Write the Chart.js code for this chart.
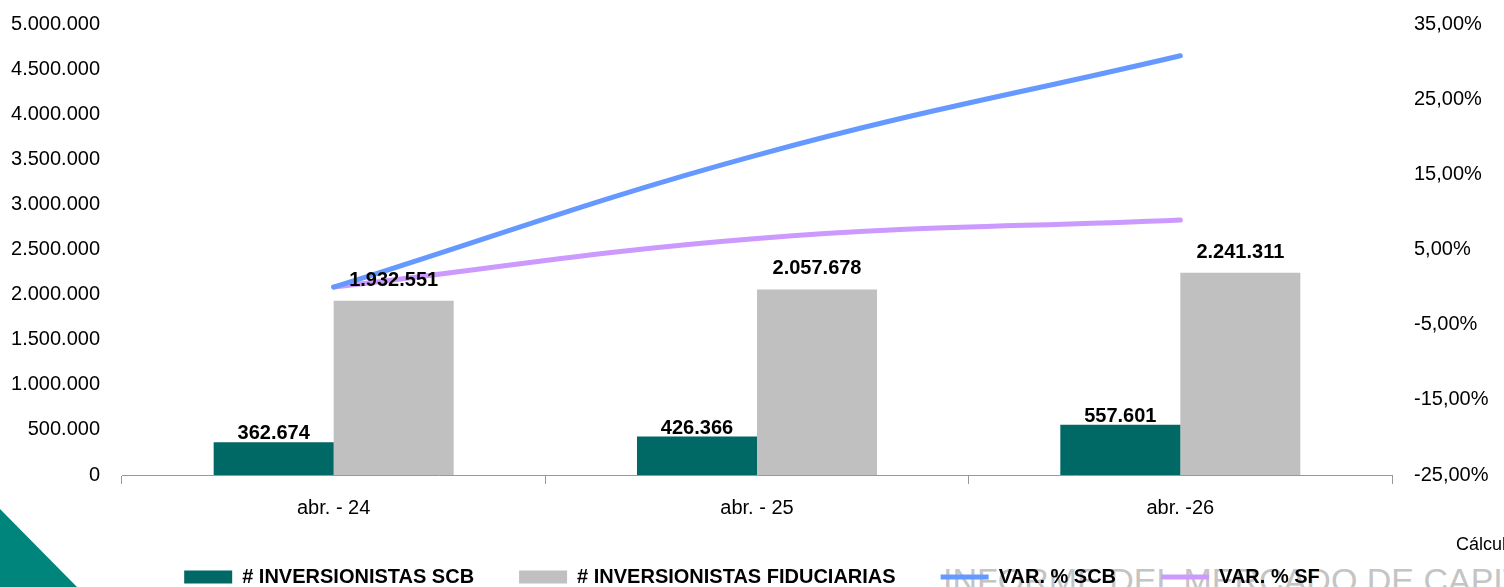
<!DOCTYPE html>
<html>
<head>
<meta charset="utf-8">
<script src="https://cdn.jsdelivr.net/npm/chart.js@4"></script>
<style>
  html, body { margin: 0; padding: 0; background: #fff; overflow: hidden; width: 1504px; height: 587px; }
  #wrap { position: relative; width: 1504px; height: 600px; }
  #myChart { position: absolute; left: 0; top: 0; z-index: 2; }
  .tri { position: absolute; left: 0; top: 509px; width: 77px; height: 78px; background: #00857D;
         clip-path: polygon(0 0, 100% 100%, 0 100%); z-index: 1; }
  .water { position: absolute; left: 943px; top: 563px; font: 34px 'Liberation Sans', Arial, sans-serif;
           color: #c4c4c4; line-height: 1; white-space: nowrap; z-index: 1; }
  .calc { position: absolute; left: 1456px; top: 535px; font: 18px 'Liberation Sans', Arial, sans-serif;
          color: #000; line-height: 1; white-space: nowrap; z-index: 3; }
</style>
</head>
<body>
<div id="wrap">
  <div class="tri"></div>
  <div class="water">INFORME DEL MERCADO DE CAPITALES</div>
  <div class="calc">Cálculos</div>
  <canvas id="myChart" width="1504" height="600"></canvas>
</div>
<script>
const categorias = ["abr. - 24", "abr. - 25", "abr. -26"];
const inversionistasSCB = [362674, 426366, 557601];
const inversionistasFid = [1932551, 2057678, 2241311];
const varSCB = [0, 17.56, 30.78];
const varSF = [0, 6.47, 8.92];

const fuente = "'Liberation Sans', Arial, sans-serif";

function miles(n) {
    return String(n).replace(/\B(?=(\d{3})+(?!\d))/g, '.');
}

// etiquetas encima de las barras
const etiquetas = {
    id: 'etiquetas',
    afterDatasetsDraw(chart) {
        const ctx = chart.ctx;
        ctx.save();
        ctx.font = "bold 20px " + fuente;
        ctx.fillStyle = '#000';
        ctx.textAlign = 'center';
        ctx.textBaseline = 'alphabetic';
        [0, 1].forEach(i => {
            const meta = chart.getDatasetMeta(i);
            const off = i === 0 ? 3 : 15;
            meta.data.forEach((bar, j) => {
                ctx.fillText(miles(chart.data.datasets[i].data[j]), bar.x, bar.y - off);
            });
        });
        ctx.restore();
    }
};

// ancho fijo de los ejes verticales, sin relleno extra arriba/abajo
const ejeFijo = w => s => {
    s.width = w;
    s.paddingTop = 0;
    s.paddingBottom = 0;
};

const ctx = document.getElementById("myChart").getContext("2d");

let chart = new Chart(ctx, {
    type: 'bar',
    data: {
        labels: categorias,
        datasets: [{
            label: '# INVERSIONISTAS SCB',
            data: inversionistasSCB,
            backgroundColor: '#006966',
            pointStyle: 'rect',
            yAxisID: 'y',
            order: 1
        }, {
            label: '# INVERSIONISTAS FIDUCIARIAS',
            data: inversionistasFid,
            backgroundColor: '#C0C0C0',
            pointStyle: 'rect',
            yAxisID: 'y',
            order: 1
        }, {
            type: 'line',
            label: 'VAR. % SCB',
            data: varSCB,
            borderColor: '#6699FF',
            backgroundColor: '#6699FF',
            borderWidth: 5,
            borderCapStyle: 'round',
            pointRadius: 0,
            pointStyle: 'line',
            tension: 0.4,
            yAxisID: 'y1',
            order: 0
        }, {
            type: 'line',
            label: 'VAR. % SF',
            data: varSF,
            borderColor: '#CC99FF',
            backgroundColor: '#CC99FF',
            borderWidth: 5,
            borderCapStyle: 'round',
            pointRadius: 0,
            pointStyle: 'line',
            tension: 0.4,
            yAxisID: 'y1',
            order: 0
        }]
    },
    options: {
        responsive: false,
        animation: false,
        layout: { padding: { top: 24, bottom: 3, left: 0, right: 0 } },
        datasets: {
            bar: { categoryPercentage: 0.567, barPercentage: 1.0 }
        },
        plugins: {
            tooltip: { enabled: false },
            legend: {
                position: 'bottom',
                labels: {
                    usePointStyle: true,
                    pointStyleWidth: 48,
                    boxHeight: 13,
                    padding: 45,
                    color: '#000',
                    font: { family: fuente, size: 20, weight: 'bold' },
                    sort: (a, b) => a.datasetIndex - b.datasetIndex
                }
            }
        },
        scales: {
            x: {
                offset: true,
                grid: { offset: true, drawOnChartArea: false, drawTicks: true, tickLength: 9, color: '#999' },
                border: { display: true, color: '#999' },
                ticks: { color: '#000', font: { family: fuente, size: 20 }, padding: 12, maxRotation: 0 },
                afterFit: s => { s.height = 47; }
            },
            y: {
                position: 'left',
                min: 0,
                max: 5000000,
                grid: { display: false, drawTicks: false },
                border: { display: false },
                ticks: {
                    stepSize: 500000,
                    color: '#000',
                    padding: 22,
                    font: { family: fuente, size: 20 },
                    callback: v => miles(v)
                },
                afterFit: ejeFijo(122)
            },
            y1: {
                position: 'right',
                min: -25,
                max: 35,
                grid: { display: false, drawTicks: false },
                border: { display: false },
                ticks: {
                    stepSize: 10,
                    color: '#000',
                    padding: 22,
                    font: { family: fuente, size: 20 },
                    callback: v => v.toFixed(2).replace('.', ',') + '%'
                },
                afterFit: ejeFijo(112)
            }
        }
    },
    plugins: [etiquetas]
});
</script>
</body>
</html>
